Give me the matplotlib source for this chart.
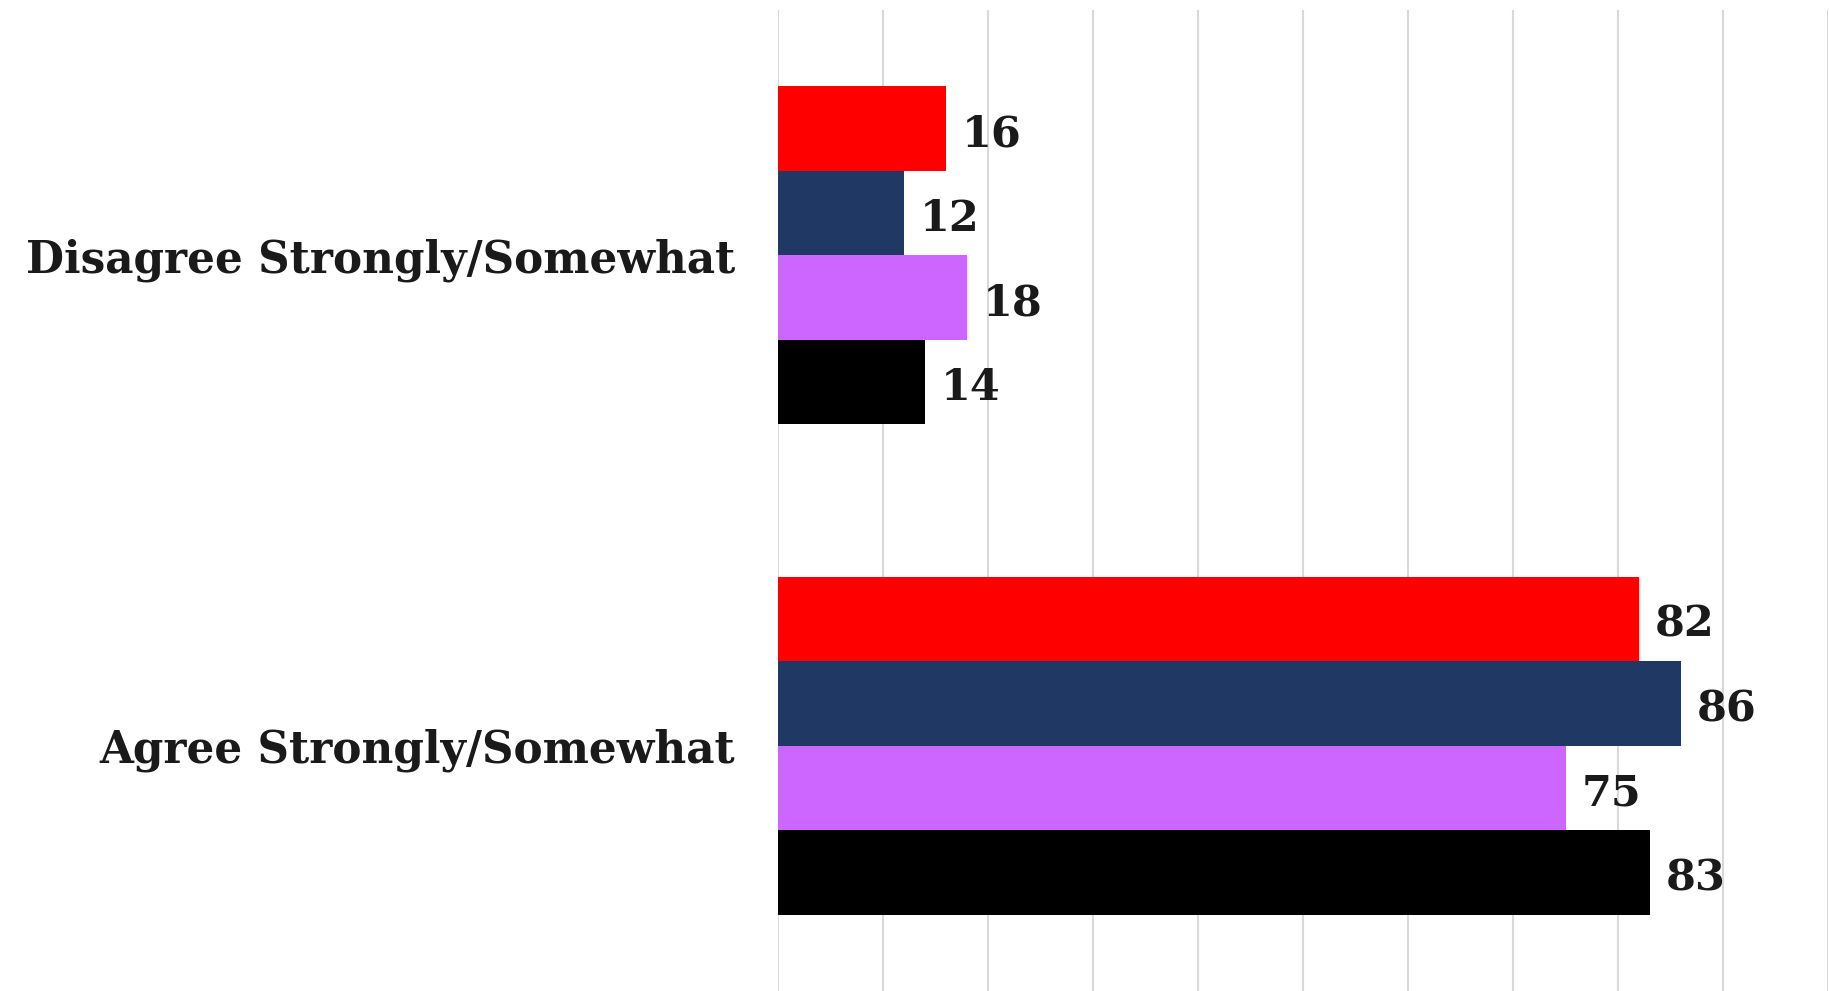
import matplotlib
matplotlib.use('Agg')
from matplotlib import pyplot as plt
import numpy as np

categories = ['Agree Strongly/Somewhat', 'Disagree Strongly/Somewhat']
series_names = ['Series 1', 'Series 2', 'Series 3', 'Series 4']
series_values = [
    [82, 16],   # red
    [86, 12],   # navy
    [75, 18],   # purple
    [83, 14],   # black
]
series_colors = ['#ff0000', '#203864', '#cc66ff', '#000000']

plt.rcParams['font.family'] = ['DejaVu Serif']

fig = plt.figure(figsize=(18.29, 9.91), dpi=100)
ax = fig.add_axes([778 / 1829, 0.0, 1050 / 1829, 981 / 991])

bar_h = 0.1725
y = np.arange(len(categories))
n = len(series_values)
for i, (vals, color) in enumerate(zip(series_values, series_colors)):
    # first series sits on top within each group
    offset = (n - 1 - i - (n - 1) / 2) * bar_h
    bars = ax.barh(y + offset, vals, height=bar_h, color=color,
                   label=series_names[i], zorder=3)
    for rect, v in zip(bars, vals):
        ax.text(rect.get_width() + 1.5,
                rect.get_y() + rect.get_height() / 2 - 0.012,
                str(v), va='center', ha='left', fontsize=31,
                fontweight='bold', color='#1a1a1a')

ax.set_xlim(0, 100)
ax.set_ylim(-0.5, 1.5)
ax.set_xticks(np.arange(0, 101, 10))
ax.xaxis.grid(True, color='#d9d9d9', linewidth=1.5, zorder=0)
ax.tick_params(axis='x', length=0, labelbottom=False)
ax.tick_params(axis='y', length=0, pad=31)
ax.set_yticks(y)
ax.set_yticklabels(categories, fontsize=31.5, fontweight='bold',
                   color='#1a1a1a')
for side in ['top', 'right', 'bottom', 'left']:
    ax.spines[side].set_visible(False)

fig.savefig('out.png', dpi=100)
